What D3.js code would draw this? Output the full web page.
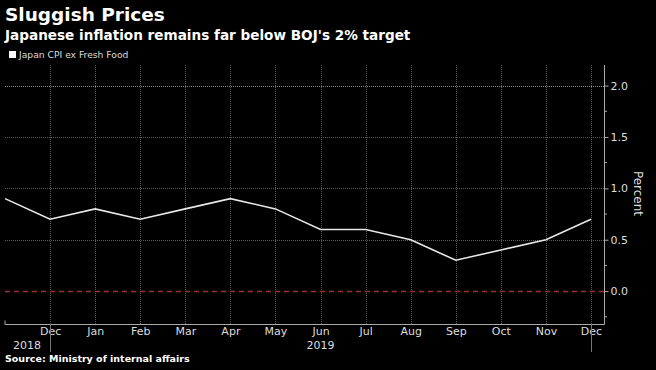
<!DOCTYPE html>
<html><head><meta charset="utf-8">
<script src="https://cdn.jsdelivr.net/npm/d3@7"></script>
<style>
body{margin:0;background:#000;}
svg{display:block;}
</style></head>
<body>
<svg id="c" width="656" height="370"></svg>
<script>
const months = ["Nov","Dec","Jan","Feb","Mar","Apr","May","Jun","Jul","Aug","Sep","Oct","Nov","Dec"];
const years = [2018,2018,2019,2019,2019,2019,2019,2019,2019,2019,2019,2019,2019,2019];
const cpiValues = [0.9,0.7,0.8,0.7,0.8,0.9,0.8,0.6,0.6,0.5,0.3,0.4,0.5,0.7];
const yTicks = [0.0,0.5,1.0,1.5,2.0];
const yearLabels = [{i:0,label:"2018"},{i:7,label:"2019"}];
const seriesName = "Japan CPI ex Fresh Food";

(function(){
const svg = d3.select("#c");
const W=656,H=370;
const pL=5,pR=604,pT=65,pB=324;
svg.append("rect").attr("width",W).attr("height",H).attr("fill","#000");

const x = d3.scaleLinear().domain([0,13]).range([pL,591]);
const y = d3.scaleLinear().domain([-0.32,2.2]).range([pB,pT]);

const font="DejaVu Sans, sans-serif";

svg.append("text").attr("x",5).attr("y",21).attr("fill","#fff").attr("font-family",font)
  .attr("font-weight","bold").attr("font-size",18.5).text("Sluggish Prices");
svg.append("text").attr("x",5).attr("y",40).attr("fill","#fff").attr("font-family",font)
  .attr("font-weight","bold").attr("font-size",13.6).text("Japanese inflation remains far below BOJ's 2% target");
svg.append("rect").attr("x",9).attr("y",51).attr("width",7).attr("height",7).attr("fill","#fff");
svg.append("text").attr("x",19).attr("y",58).attr("fill","#ddd").attr("font-family",font)
  .attr("font-size",9.2).text(seriesName);

svg.append("g").selectAll("line").data(months.slice(1)).join("line")
  .attr("x1",(d,i)=>Math.round(x(i+1))+0.5).attr("x2",(d,i)=>Math.round(x(i+1))+0.5)
  .attr("y1",pT).attr("y2",pB)
  .attr("stroke","#5a5a5a").attr("stroke-width",1).attr("stroke-dasharray","1,1");
svg.append("g").selectAll("line").data(yTicks.filter(v=>v>0)).join("line")
  .attr("x1",pL).attr("x2",pR).attr("y1",d=>Math.round(y(d))+0.5).attr("y2",d=>Math.round(y(d))+0.5)
  .attr("stroke",d=>d===2?"#7a9a60":"#5a5a5a").attr("stroke-width",1).attr("stroke-dasharray","1,1");
svg.append("line").attr("x1",pL).attr("x2",pR).attr("y1",Math.round(y(0))+0.5).attr("y2",Math.round(y(0))+0.5)
  .attr("stroke","#9a3030").attr("stroke-width",1.4).attr("stroke-dasharray","5,4");

const yAxis = d3.axisRight(y).tickValues(yTicks).tickFormat(d3.format(".1f")).tickSize(4).tickPadding(2);
const ga = svg.append("g").attr("transform",`translate(${pR+0.5},0)`).call(yAxis);
ga.select(".domain").attr("d",`M0,${pT}V${pB}`).attr("stroke","#aaa");
ga.selectAll(".tick line").attr("stroke","#aaa");
ga.selectAll(".tick text").attr("fill","#ddd").attr("font-family",font).attr("font-size",11);
svg.append("g").selectAll("line").data([-0.25,0.25,0.75,1.25,1.75]).join("line")
  .attr("x1",pR+0.5).attr("x2",pR+3).attr("y1",d=>y(d)).attr("y2",d=>y(d)).attr("stroke","#aaa");
svg.append("text").attr("transform",`translate(634,${y(0.95)}) rotate(90)`).attr("text-anchor","middle")
  .attr("fill","#ddd").attr("font-family",font).attr("font-size",12).text("Percent");

const xAxis = d3.axisBottom(x).tickValues(d3.range(1,14)).tickFormat(i=>months[i]).tickSize(0).tickPadding(3);
const gx = svg.append("g").attr("transform",`translate(0,${pB+0.5})`).call(xAxis);
gx.select(".domain").attr("d",`M${pL},-4V0H${pR+0.5}V-4`).attr("stroke","#aaa").attr("fill","none");
gx.selectAll(".tick text").attr("fill","#ddd").attr("font-family",font).attr("font-size",11);
svg.append("g").selectAll("text").data(yearLabels).join("text")
  .attr("x",d=>d.i===0?27:x(d.i)).attr("y",349).attr("text-anchor","middle")
  .attr("fill","#ddd").attr("font-family",font).attr("font-size",11).text(d=>d.label);
svg.append("g").selectAll("line").data([1,13]).join("line")
  .attr("x1",d=>Math.round(x(d))+0.5).attr("x2",d=>Math.round(x(d))+0.5).attr("y1",pB).attr("y2",352)
  .attr("stroke","#777");

const line = d3.line().x((d,i)=>x(i)).y(d=>y(d));
svg.append("path").datum(cpiValues).attr("d",line).attr("fill","none")
  .attr("stroke","#e8e8e8").attr("stroke-width",1.6);

svg.append("text").attr("x",5).attr("y",362).attr("fill","#fff").attr("font-family",font)
  .attr("font-weight","bold").attr("font-size",9.5).text("Source: Ministry of internal affairs");
})();
</script>
</body></html>
